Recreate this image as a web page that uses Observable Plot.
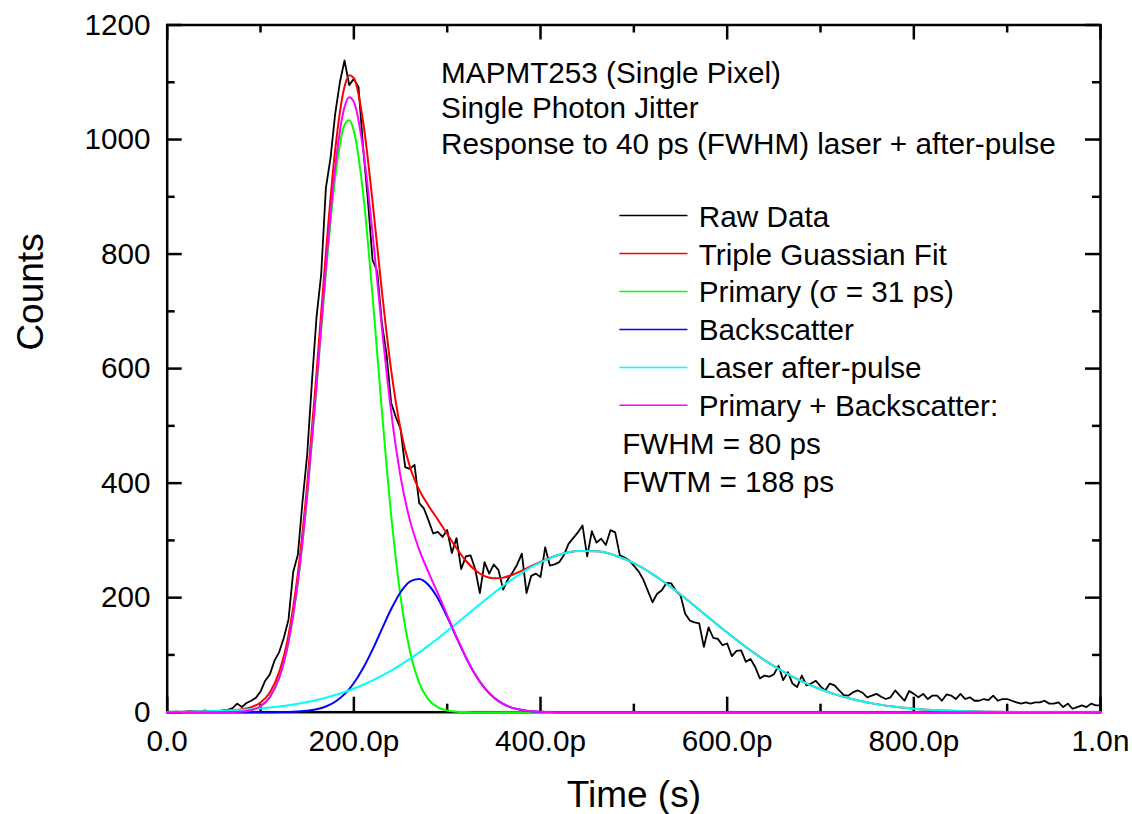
<!DOCTYPE html>
<html><head><meta charset="utf-8">
<script src="https://cdn.jsdelivr.net/npm/d3@7"></script>
<script src="https://cdn.jsdelivr.net/npm/@observablehq/plot@0.6"></script>
<style>html,body{margin:0;padding:0;background:#fff;}</style>
</head><body><div id="chart"></div>
<script>
// ---------- data ----------
const binWidth = 5; // ps per raw bin
const rawCounts = [
0,0,1,0,1,2,1,0,3,1, 2,1,3,4,7,15,9,16,20,25,
36,55,66,90,105,130,162,245,275,368, 450,575,690,765,915,968,1045,1100,1138,1095,
1106,1092,985,895,790,770,680,625,540,515, 495,428,425,432,365,356,335,312,315,306,
318,278,304,250,272,274,250,208,262,242, 258,248,214,232,244,258,277,208,238,242,
236,288,256,258,262,274,294,304,314,326, 272,316,296,303,292,318,314,274,270,265,
256,246,232,212,192,207,213,226,225,212, 204,172,160,157,155,114,148,130,128,117,
120,98,107,108,88,93,79,59,64,62, 66,81,56,70,50,44,64,47,50,55,
45,38,50,47,38,30,29,35,38,34, 26,29,32,27,23,26,38,29,20,37,
32,26,32,23,29,29,20,31,29,23, 32,23,26,20,20,23,21,29,20,23,
23,20,17,15,17,15,17,17,20,15, 15,17,9,15,6,9,12,9,15,12,
12
];

const fitTime = [0,20,40,60,70,80,90,100,110,120,130,140,150,160,170,180,190,195,200,210,220,230,240,250,260,270,280,290,300,310,320,330,340,350,360,370,380,390,400,410,420,440,460,480,500,520,540,560,580,600,620,640,660,680,700,720,740,760,780,800,820,840,860,880,900,920,940,960,980,1000];

const primary = [0,0,0,0,0.3,1.2,3.7,10.4,26.3,59.9,122.7,226.8,377.6,566.6,766.2,933.7,1025.4,1033.5,1014.8,905.1,727.4,526.8,343.9,202.3,107.2,51.2,22.0,8.6,3.0,0.9,0.3,0.1,0,0,0,0,0,0,0,0,0,0,0,0,0,0,0,0,0,0,0,0,0,0,0,0,0,0,0,0,0,0,0,0,0,0,0,0,0,0];

const backscatter = [0,0,0,0,0,0,0,0,0.1,0.2,0.4,1.1,2.4,5.0,9.9,18.3,31.5,40.4,51.0,77.1,109.3,145.0,180.1,209.5,228.2,232.7,222.2,198.8,166.4,130.5,95.8,65.8,42.4,25.6,14.4,7.6,3.8,1.7,0.8,0.3,0.1,0,0,0,0,0,0,0,0,0,0,0,0,0,0,0,0,0,0,0,0,0,0,0,0,0,0,0,0,0];

const afterPulse = [0.5,0.9,1.6,2.6,3.3,4.1,5.2,6.5,8.0,9.8,12.0,14.6,17.7,21.2,25.3,29.9,35.2,38.2,41.3,48.0,55.5,63.8,72.8,82.6,93.2,104.4,116.4,128.8,141.7,154.9,168.4,181.8,195.1,208.1,220.6,232.4,243.3,253.2,261.8,269.0,274.8,281.3,280.9,273.7,260.2,241.2,218.2,192.5,165.6,139.1,113.9,91.0,70.9,53.9,40.0,28.9,20.4,14.1,9.4,6.2,4.0,2.5,1.5,0.9,0.5,0.3,0.2,0.1,0,0];

const primaryPlusBack = [0,0,0,0,0.3,1.2,3.7,10.4,26.4,60.1,123.1,227.9,380.0,571.6,776.1,952.0,1056.9,1073.9,1065.8,982.2,836.7,671.8,524.0,411.8,335.4,283.9,244.2,207.4,169.4,131.4,96.1,65.9,42.4,25.6,14.4,7.6,3.8,1.7,0.8,0.3,0.1,0,0,0,0,0,0,0,0,0,0,0,0,0,0,0,0,0,0,0,0,0,0,0,0,0,0,0,0,0];

const tripleFit = [0.5,0.9,1.6,2.6,3.6,5.3,8.9,16.9,34.4,69.9,135.1,242.5,397.7,592.8,801.4,981.9,1092.1,1112.1,1107.1,1030.2,892.2,735.6,596.8,494.4,428.6,388.3,360.6,336.2,311.1,286.3,264.5,247.7,237.5,233.7,235.0,240.0,247.1,254.9,262.6,269.3,274.9,281.3,280.9,273.7,260.2,241.2,218.2,192.5,165.6,139.1,113.9,91.0,70.9,53.9,40.0,28.9,20.4,14.1,9.4,6.2,4.0,2.5,1.5,0.9,0.5,0.3,0.2,0.1,0,0];

const xTickValues = [0,200,400,600,800,1000];
const xTickLabels = ["0.0","200.0p","400.0p","600.0p","800.0p","1.0n"];
const xMinorTicks = [100,300,500,700,900];
const yTickValues = [0,200,400,600,800,1000,1200];
const yMinorTicks = [100,300,500,700,900,1100];

const legendLabels = ["Raw Data","Triple Guassian Fit","Primary (\u03c3 = 31 ps)","Backscatter","Laser after-pulse","Primary + Backscatter:"];
const legendColors = ["#000000","#ff0000","#00ff00","#0000ff","#00ffff","#ff00ff"];
const legendExtra = ["FWHM = 80 ps","FWTM = 188 ps"];
const annotationLines = ["MAPMT253 (Single Pixel)","Single Photon Jitter","Response to 40 ps (FWHM) laser + after-pulse"];

// ---------- layout ----------
const W = 1132, H = 814;
const mL = 166.7, mR = 32, mT = 24.5, mB = 102.3;
const plotW = W - mL - mR, plotH = H - mT - mB;
const majorLen = 15, minorLen = 8;
const fontSm = 29.7, fontLg = 37;
const annoX = 293.5, annoY = 1143.7;
const legX1 = 485, legX2 = 558, legTextX = 569.6, legExtraX = 487.5;
const legTop = 867.3, legStep = 66.3;

// ---------- tables ----------
const raw = rawCounts.map((c, i) => ({t: i * binWidth, c}));
const mk = vals => fitTime.map((t, i) => ({t, v: vals[i]}));
const series = [
  {vals: tripleFit, color: "#ff0000"},
  {vals: primary, color: "#00ff00"},
  {vals: backscatter, color: "#0000ff"},
  {vals: afterPulse, color: "#00ffff"},
  {vals: primaryPlusBack, color: "#ff00ff"}
];

const tickStyle = {stroke: "black", strokeWidth: 2.5};
const marks = [
  Plot.frame({stroke: "black", strokeWidth: 2.5}),
  Plot.ruleX(xTickValues, {x: d => d, insetTop: plotH - majorLen, ...tickStyle}),
  Plot.ruleX(xMinorTicks, {x: d => d, insetTop: plotH - minorLen, ...tickStyle}),
  Plot.ruleX(xTickValues, {x: d => d, insetBottom: plotH - majorLen, ...tickStyle}),
  Plot.ruleX(xMinorTicks, {x: d => d, insetBottom: plotH - minorLen, ...tickStyle}),
  Plot.ruleY(yTickValues, {y: d => d, insetRight: plotW - majorLen, ...tickStyle}),
  Plot.ruleY(yMinorTicks, {y: d => d, insetRight: plotW - minorLen, ...tickStyle}),
  Plot.ruleY(yTickValues, {y: d => d, insetLeft: plotW - majorLen, ...tickStyle}),
  Plot.ruleY(yMinorTicks, {y: d => d, insetLeft: plotW - minorLen, ...tickStyle}),
  Plot.text(xTickValues, {x: d => d, text: (d, i) => xTickLabels[i], frameAnchor: "bottom", dy: 29.5, lineAnchor: "middle", fontSize: fontSm}),
  Plot.text(yTickValues, {y: d => d, text: d => String(d), frameAnchor: "left", dx: -16.7, textAnchor: "end", lineAnchor: "middle", fontSize: fontSm}),
  Plot.text(["Time (s)"], {text: d => d, frameAnchor: "bottom", dy: 82.5, lineAnchor: "middle", fontSize: fontLg}),
  Plot.text(["Counts"], {text: d => d, frameAnchor: "left", rotate: -90, dx: -135.8, dy: -18, lineAnchor: "middle", fontSize: fontLg}),
  Plot.line(raw, {x: "t", y: "c", stroke: "black", strokeWidth: 1.8}),
  ...series.map(s => Plot.line(mk(s.vals), {x: "t", y: "v", stroke: s.color, strokeWidth: 2, curve: "monotone-x"})),
  Plot.text([annotationLines.join("\n")], {x: annoX, y: annoY, text: d => d, textAnchor: "start", lineAnchor: "top", lineHeight: 1.205, fontSize: fontSm}),
  ...legendLabels.map((lab, i) => Plot.ruleY([legTop - i * legStep], {y: d => d, x1: legX1, x2: legX2, stroke: legendColors[i], strokeWidth: 1.5})),
  ...legendLabels.map((lab, i) => Plot.text([lab], {x: legTextX, y: legTop - i * legStep, text: d => d, textAnchor: "start", lineAnchor: "middle", dy: 1.5, fontSize: fontSm})),
  ...legendExtra.map((lab, i) => Plot.text([lab], {x: legExtraX, y: legTop - (legendLabels.length + i) * legStep, text: d => d, textAnchor: "start", lineAnchor: "middle", dy: 1.5, fontSize: fontSm}))
];

const chart = Plot.plot({
  width: W, height: H,
  marginLeft: mL, marginRight: mR, marginTop: mT, marginBottom: mB,
  x: {domain: [0, 1000], axis: null},
  y: {domain: [0, 1200], axis: null},
  style: {fontFamily: "'Liberation Sans', Arial, Helvetica, sans-serif", background: "white", color: "black", overflow: "visible"},
  marks
});
document.getElementById("chart").appendChild(chart);
</script>
</body></html>
